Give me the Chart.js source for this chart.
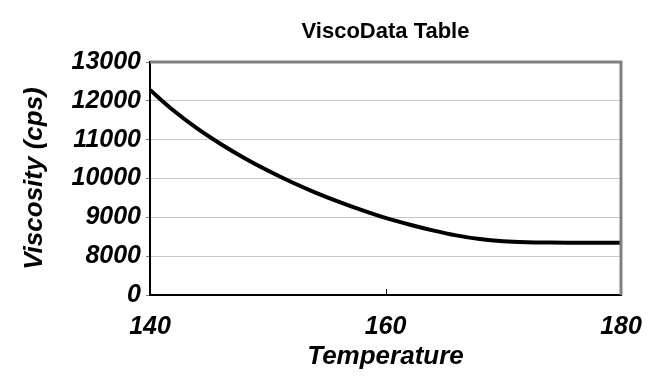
<!DOCTYPE html>
<html>
<head>
<meta charset="utf-8">
<script src="https://cdn.jsdelivr.net/npm/chart.js@4/dist/chart.umd.min.js"></script>
<style>
  html, body { margin: 0; padding: 0; background: #fff; }
  #wrap { width: 670px; height: 382px; }
</style>
</head>
<body>
<div id="wrap"><canvas id="c" width="670" height="382"></canvas></div>
<script>
// Data
const temperatures = [140, 142, 144, 146, 148, 150, 152, 154, 156, 158, 160, 162, 164, 166, 168, 170, 172, 174, 176, 178, 180];
const viscosity    = [12280, 11750, 11290, 10890, 10530, 10205, 9910, 9645, 9405, 9185, 8985, 8815, 8665, 8535, 8440, 8385, 8360, 8350, 8347, 8346, 8345];
// The y axis is broken: the lowest tick is labelled "0"
const yTickValues = [7000, 8000, 9000, 10000, 11000, 12000, 13000];
const yTickLabels = ['0', '8000', '9000', '10000', '11000', '12000', '13000'];
const xTickValues = [140, 160, 180];
const xTickLabels = ['140', '160', '180'];

const points = temperatures.map((t, i) => ({ x: t, y: viscosity[i] }));

const frame = {
  id: 'frame',
  afterDraw(chart) {
    const { ctx, chartArea: a, scales } = chart;
    ctx.save();
    // inner tick marks on the x axis
    ctx.strokeStyle = '#000';
    ctx.lineWidth = 1;
    scales.x.ticks.forEach(t => {
      const px = Math.round(scales.x.getPixelForValue(t.value)) + 0.5;
      ctx.beginPath();
      ctx.moveTo(px, a.bottom);
      ctx.lineTo(px, a.bottom - 6);
      ctx.stroke();
    });
    // grey top and right frame
    ctx.strokeStyle = '#808080';
    ctx.lineWidth = 3;
    ctx.beginPath();
    ctx.moveTo(a.left, a.top);
    ctx.lineTo(a.right, a.top);
    ctx.lineTo(a.right, a.bottom);
    ctx.stroke();
    ctx.restore();
  }
};

new Chart(document.getElementById('c'), {
  type: 'line',
  data: {
    datasets: [{
      data: points,
      borderColor: '#000',
      borderWidth: 4,
      pointRadius: 0,
      cubicInterpolationMode: 'monotone',
      fill: false
    }]
  },
  options: {
    responsive: false,
    animation: false,
    layout: { padding: { top: 19, right: 49, bottom: 0, left: 0 } },
    plugins: {
      legend: { display: false },
      tooltip: { enabled: false },
      title: {
        display: true,
        text: 'ViscoData Table',
        fullSize: false,
        color: '#000',
        font: { family: 'Liberation Sans', size: 22, weight: 'bold' },
        padding: { top: 0, bottom: 16.6 }
      }
    },
    scales: {
      x: {
        type: 'linear',
        min: 140,
        max: 180,
        afterBuildTicks(scale) { scale.ticks = xTickValues.map(v => ({ value: v })); },
        ticks: {
          color: '#000',
          padding: 17,
          maxRotation: 0,
          font: { family: 'Liberation Sans', size: 25, weight: 'bold', style: 'italic' },
          callback(v) { const i = xTickValues.indexOf(v); return i >= 0 ? xTickLabels[i] : ''; }
        },
        grid: { display: false, drawTicks: false },
        border: { display: true, color: '#000', width: 2 },
        title: {
          display: true,
          text: 'Temperature',
          color: '#000',
          font: { family: 'Liberation Sans', size: 26, weight: 'bold', style: 'italic' },
          padding: { top: 0, bottom: 9.4 }
        },
        afterFit(scale) { scale.height = 87; }
      },
      y: {
        type: 'linear',
        min: 7000,
        max: 13000,
        afterBuildTicks(scale) { scale.ticks = yTickValues.map(v => ({ value: v })); },
        ticks: {
          color: '#000',
          padding: 5,
          font: { family: 'Liberation Sans', size: 25, weight: 'bold', style: 'italic' },
          callback(v) { const i = yTickValues.indexOf(v); return i >= 0 ? yTickLabels[i] : ''; }
        },
        grid: {
          color: '#c8c8c8',
          lineWidth: 1,
          tickColor: '#808080',
          tickLength: 4
        },
        border: { display: true, color: '#000', width: 2 },
        title: {
          display: true,
          text: 'Viscosity (cps)',
          color: '#000',
          font: { family: 'Liberation Sans', size: 26, weight: 'bold', style: 'italic' },
          padding: { top: 19.4, bottom: 0 }
        },
        afterFit(scale) { scale.width = 150; }
      }
    }
  },
  plugins: [frame]
});
</script>
</body>
</html>
